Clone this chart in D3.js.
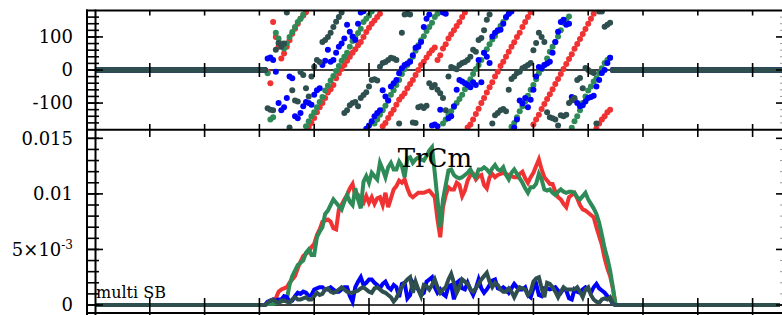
<!DOCTYPE html>
<html lang="en">
<head>
<meta charset="utf-8"/>
<title>TrCm multi SB</title>
<style>
  body { margin: 0; background: #fff; }
  svg text { font-family: "DejaVu Serif", serif; fill: #000; }
  .frame { stroke: #000; stroke-width: 2px; fill: none; }
  .tick { stroke: #000; stroke-width: 1.6px; }
  .tick-minor-r { stroke: #999; stroke-width: 1px; }
</style>
</head>
<body>
<svg id="chart" width="782" height="315"></svg>
<script src="https://cdnjs.cloudflare.com/ajax/libs/d3/7.8.5/d3.min.js"></script>
<script>
// samples 0..250, signal only between winStart and the end of each window (zero elsewhere)
var nSamples = 251;
var winStart = 62;

// phase in degrees, samples 62..188
var phRed = [
  0,-5,-40,145,100,70,35,50,70,90,
  110,125,140,155,165,175,-172,-160,-145,-128,
  -113,-100,-85,-68,-58,-45,-25,-10,3,15,
  28,40,52,63,75,85,100,115,128,140,
  150,160,170,-170,-160,-145,-132,-120,-105,-90,
  -80,-70,-55,-42,-30,-15,0,15,25,38,
  50,60,68,30,45,65,78,95,108,120,
  133,145,160,174,-174,-165,-150,-133,-117,-100,
  -85,-68,-52,-37,-20,-5,12,25,40,55,
  70,84,100,113,130,145,160,175,-165,-150,
  -135,-118,-103,-88,-73,-58,-42,-27,-12,3,
  18,33,48,64,79,94,109,124,140,155,
  170,-177,-162,-150,-140,-128,-120
];
var phGreen = [
  0,-10,-150,-143,113,95,80,65,80,100,
  115,130,145,155,168,-170,-155,-140,-128,-113,
  -97,-82,-62,-48,-32,-18,-3,12,28,40,
  52,70,88,98,112,125,145,155,165,177,
  -162,-150,-135,-122,-108,-92,-75,-61,-45,-30,
  -12,3,15,28,40,58,75,90,102,118,
  130,143,160,170,176,-162,-150,-135,-125,-112,
  -100,-88,-75,-58,-40,-28,-12,3,15,30,
  52,63,78,92,103,118,133,145,158,170,
  -172,-160,-143,-125,-110,-95,-78,-60,-45,-28,
  -10,2,15,35,55,70,85,101,120,143,
  152,162,-175,-155,-140,-122,-100,-80,-62,-50,
  -35,-25,-10,5,21,30,37
];
var phBlue = [
  0,35,38,30,-5,-100,-122,-113,-85,-20,
  -25,-140,-146,-130,-110,-97,-100,-105,-75,-61,
  -55,15,28,61,25,30,52,70,80,95,
  137,116,101,91,140,174,178,-178,-168,-155,
  -140,-130,-122,-61,-80,-92,-50,-40,-30,-10,
  5,15,20,25,45,67,70,85,130,155,
  168,-168,-165,-170,-120,174,170,-146,-140,-110,
  -60,-30,-35,-40,-45,-52,-37,-45,30,-37,
  52,40,21,101,113,120,122,140,160,170,
  177,-174,-150,-92,-101,-85,-113,-90,-60,-20,
  9,5,15,20,25,52,85,116,145,152,
  137,140,-82,-90,-100,-110,-107,-95,-85,-82,
  -78,-50,-30,-9,0,21,37
];
var phDark = [
  0,-116,-120,-122,61,82,70,80,174,-174,
  -61,-92,-95,-6,-15,-55,-80,-20,10,30,
  24,85,91,100,113,130,146,160,174,-130,
  -122,-107,-100,-97,-110,-85,-76,-67,-50,-30,
  -28,-32,10,21,24,30,37,35,30,-162,
  113,168,170,168,-159,-160,-113,-110,-115,-108,
  -40,-52,-45,-60,-70,-85,-122,-20,9,5,
  2,15,21,24,30,40,61,55,91,97,
  120,152,168,-162,-137,-130,-122,-118,-125,-60,
  -27,-20,-9,-5,5,10,15,21,60,82,
  113,100,85,-128,-143,-146,-150,-168,-137,-140,
  -135,-100,-92,-85,-30,-24,-55,6,0,-5,
  -9,-162,177,177,131,137,143
];

// amplitude in units of 1e-4, samples 62..189
var ampRed = [
  0,1,2,3,6,12,14,15,16,20,
  23,26,33,39,44,46,48,52,55,63,
  68,75,76,77,75,69,68,86,90,95,
  99,105,109,98,99,95,92,98,92,97,
  91,96,97,90,101,88,96,104,107,112,
  110,113,105,99,97,99,101,101,101,102,
  103,100,97,77,61,88,99,106,104,104,
  110,108,98,103,112,117,118,113,116,117,
  108,105,115,118,115,117,118,119,118,117,
  116,115,115,118,120,114,110,115,119,125,
  131,122,115,112,109,109,102,97,95,91,
  88,97,99,101,96,90,86,85,83,81,
  79,70,62,54,42,33,26,15
];
var ampGreen = [
  0,1,1,1,2,2,3,4,5,18,
  26,31,36,38,40,47,50,45,45,61,
  66,70,82,85,90,95,92,89,86,93,
  99,93,90,105,95,87,111,116,110,119,
  116,113,128,122,115,124,128,122,122,129,
  125,115,132,133,128,131,133,131,130,134,
  139,142,119,95,70,95,108,121,122,117,
  115,114,115,117,119,122,117,115,122,122,
  124,122,119,123,126,122,121,124,117,113,
  119,122,118,114,110,105,101,106,106,109,
  118,113,104,103,104,101,99,102,104,102,
  101,102,102,101,97,95,98,101,95,91,
  87,82,74,63,51,42,31,16
];
var ampBlue = [
  0,3,4,5,4,5,5,8,7,3,
  4,8,11,10,12,11,8,9,14,15,
  16,16,14,14,16,14,12,12,14,16,
  16,8,3,16,21,25,18,20,23,23,
  20,18,15,19,21,16,14,18,16,7,
  19,20,6,9,20,16,14,9,11,21,
  23,25,16,11,14,10,8,17,18,5,
  20,22,15,14,20,14,9,15,23,15,
  11,14,18,22,23,15,14,16,14,11,
  15,19,16,14,14,16,9,7,15,19,
  9,8,15,15,14,15,16,13,11,15,
  13,6,5,14,12,11,14,16,14,11,
  16,19,15,13,11,8,5,1
];
var ampDark = [
  0,2,4,5,3,2,4,4,3,2,
  5,7,5,5,6,7,5,5,8,11,
  9,10,14,15,12,11,12,14,16,14,
  12,11,11,12,13,15,16,14,12,11,
  15,16,14,12,11,9,7,3,6,12,
  16,20,23,25,11,21,14,8,18,17,
  14,18,23,16,11,14,16,23,28,20,
  11,16,23,21,19,14,12,15,19,23,
  26,29,21,16,20,18,14,12,12,15,
  12,7,12,16,15,14,9,12,21,24,
  25,15,7,20,19,16,12,7,12,16,
  14,14,14,14,16,12,7,14,16,9,
  5,3,2,5,6,5,7,1
];

var seriesColors = ["#f03232", "#2e8b57", "#0000ff", "#2f4f4f"];
var phaseTicks = [-100, 0, 100];
var ampTicks = [0, 50, 100, 150];
var ampTickLabels = ["0", "5\u00d710|-3", "0.01", "0.015"];
var sampleTicks = d3.range(20, 250, 20);

function padded(win) {
  return d3.range(nSamples).map(function(i) {
    var k = i - winStart;
    return (k >= 0 && k < win.length) ? win[k] : 0;
  });
}

var phases = [phRed, phGreen, phBlue, phDark].map(padded);
var amps = [ampRed, ampGreen, ampBlue, ampDark].map(padded);

var svg = d3.select("#chart");

var x = d3.scaleLinear().domain([0, 250]).range([95, 780]);
var yTop = d3.scaleLinear().domain([-180, 180]).range([129.5, 10.5]);
var yBot = d3.scaleLinear().domain([-7.2, 157.5]).range([313, 130]);

var defs = svg.append("defs");
defs.append("clipPath").attr("id", "clipTop").append("rect")
    .attr("x", 95).attr("y", 10.5).attr("width", 690).attr("height", 119);
defs.append("clipPath").attr("id", "clipBot").append("rect")
    .attr("x", 95).attr("y", 130).attr("width", 690).attr("height", 183);

// ---- top panel: phase
var gTop = svg.append("g").attr("clip-path", "url(#clipTop)");
gTop.append("line").attr("class", "tick")
    .attr("x1", 95).attr("x2", 782).attr("y1", yTop(0)).attr("y2", yTop(0));

phases.forEach(function(ph, s) {
  gTop.append("g").selectAll("circle")
    .data(ph)
    .enter().append("circle")
    .attr("cx", function(d, i) { return x(i); })
    .attr("cy", function(d) { return yTop(d); })
    .attr("r", 3)
    .attr("fill", seriesColors[s]);
});

// ---- bottom panel: amplitude
var gBot = svg.append("g").attr("clip-path", "url(#clipBot)");
gBot.append("line").attr("class", "tick")
    .attr("x1", 95).attr("x2", 782).attr("y1", yBot(0)).attr("y2", yBot(0));

var line = d3.line()
    .x(function(d, i) { return x(i); })
    .y(function(d) { return yBot(d); });

amps.forEach(function(a, s) {
  gBot.append("path")
    .datum(a)
    .attr("d", line)
    .attr("fill", "none")
    .attr("stroke", seriesColors[s])
    .attr("stroke-width", 4);
});

// ---- frame
var frame = svg.append("g");
[10.5, 129.75, 313].forEach(function(y) {
  frame.append("line").attr("class", "frame")
    .attr("x1", 86).attr("x2", 782).attr("y1", y).attr("y2", y);
});
[87, 95.5].forEach(function(xx) {
  frame.append("line").attr("class", "frame")
    .attr("x1", xx).attr("x2", xx).attr("y1", 9.5).attr("y2", 315);
});

// x ticks
var xt = svg.append("g");
[[10.5, 15.5], [yTop(0) - 7, yTop(0) + 7], [124, 137], [yBot(0) - 7, 315]].forEach(function(r) {
  xt.selectAll(null)
    .data(sampleTicks)
    .enter().append("line").attr("class", "tick")
    .attr("x1", function(d) { return x(d); })
    .attr("x2", function(d) { return x(d); })
    .attr("y1", r[0]).attr("y2", r[1]);
});

// y ticks, left ladder and right edge
function yTicks(scale, minor, major) {
  var g = svg.append("g");
  g.selectAll(null).data(minor).enter().append("line").attr("class", "tick")
    .attr("x1", 86).attr("x2", 99)
    .attr("y1", function(d) { return scale(d); })
    .attr("y2", function(d) { return scale(d); });
  g.selectAll(null).data(major).enter().append("line").attr("class", "tick")
    .attr("x1", 86).attr("x2", 103)
    .attr("y1", function(d) { return scale(d); })
    .attr("y2", function(d) { return scale(d); });
  g.selectAll(null).data(minor).enter().append("line").attr("class", "tick-minor-r")
    .attr("x1", 780).attr("x2", 782)
    .attr("y1", function(d) { return scale(d); })
    .attr("y2", function(d) { return scale(d); });
  g.selectAll(null).data(major).enter().append("line").attr("class", "tick")
    .attr("x1", 776).attr("x2", 782)
    .attr("y1", function(d) { return scale(d); })
    .attr("y2", function(d) { return scale(d); });
}
yTicks(yTop, d3.range(-160, 180, 20), phaseTicks);
yTicks(yBot, d3.range(0, 160, 10), ampTicks);

// tick labels
svg.append("g").selectAll("text")
  .data(phaseTicks)
  .enter().append("text")
  .attr("x", 73).attr("y", function(d) { return yTop(d); })
  .attr("dy", "0.35em").attr("text-anchor", "end")
  .style("font-size", "18px")
  .text(function(d) { return d; });

var botLabels = svg.append("g").selectAll("text")
  .data(ampTicks)
  .enter().append("text")
  .attr("x", 73).attr("y", function(d) { return yBot(d); })
  .attr("dy", "0.35em").attr("text-anchor", "end")
  .style("font-size", "18px");
botLabels.each(function(d, i) {
  var parts = ampTickLabels[i].split("|");
  var t = d3.select(this);
  t.append("tspan").text(parts[0]);
  if (parts[1]) {
    t.append("tspan").attr("dy", -7).style("font-size", "12px").text(parts[1]);
  }
});

svg.append("text")
  .attr("x", 435).attr("y", 167)
  .attr("text-anchor", "middle")
  .style("font-size", "26px")
  .text("TrCm");

svg.append("text")
  .attr("x", 96).attr("y", 298)
  .style("font-size", "16px")
  .text("multi SB");
</script>
</body>
</html>
